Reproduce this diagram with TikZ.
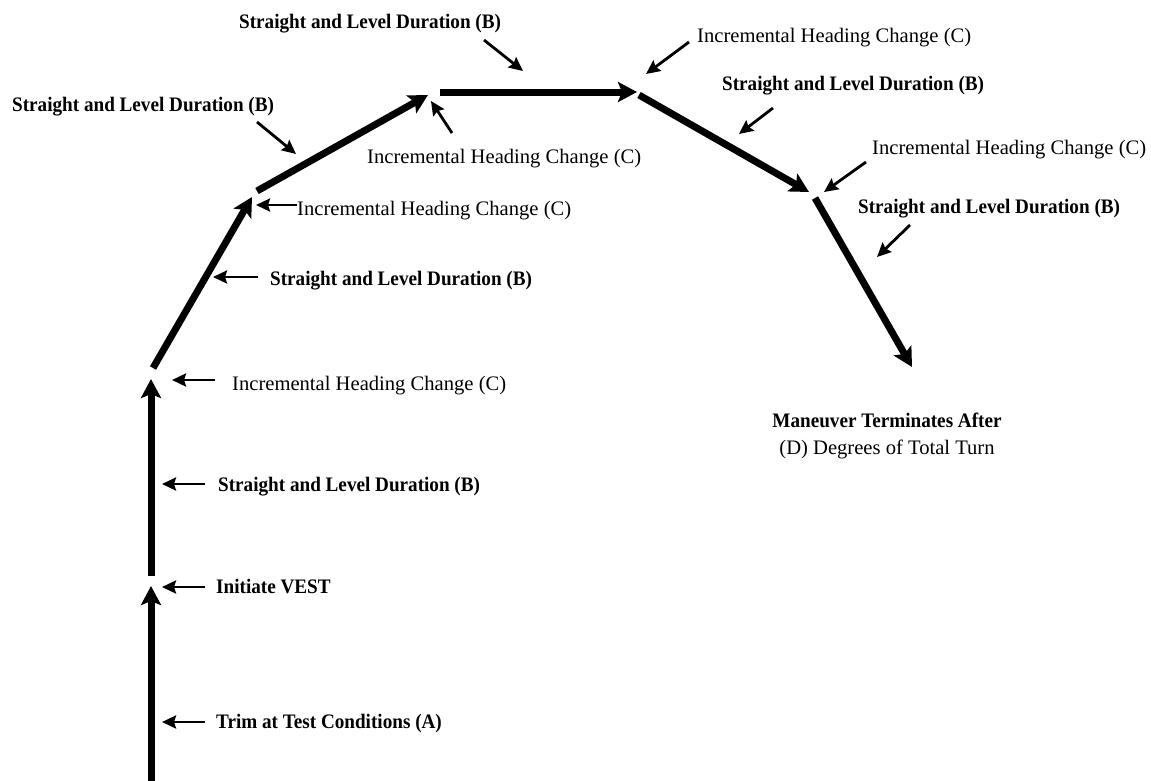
\documentclass[tikz,border=0pt]{standalone}
\usepackage{fontspec}
\setmainfont{Liberation Serif}
\newfontfamily\condserif[FakeStretch=0.93]{Liberation Serif}
\usetikzlibrary{arrows.meta}
\begin{document}
\begin{tikzpicture}[x=1pt,y=-1pt,
  leg/.style={line width=7pt,-{Stealth[length=19pt,width=20pt,inset=4pt]}},
  pointer/.style={line width=2.8pt,-{Stealth[length=14pt,width=13pt,inset=2pt]}},
  boldfont/.style={font=\condserif\fontsize{20.6}{24}\selectfont\bfseries},
  regfont/.style={font=\fontsize{20.6}{24}\selectfont},
  boldlab/.style={boldfont,inner sep=0pt,anchor=base west},
  reglab/.style={regfont,inner sep=0pt,anchor=base west}]
\useasboundingbox (0,0) rectangle (1151,780);

% flight path legs
\coordinate (p0s) at (151,782);  \coordinate (p0e) at (151,586);
\coordinate (p1s) at (151,576);  \coordinate (p1e) at (151,379);
\coordinate (p2s) at (153,368);  \coordinate (p2e) at (252,197);
\coordinate (p3s) at (257,191);  \coordinate (p3e) at (428,95);
\coordinate (p4s) at (440,92);   \coordinate (p4e) at (637,92);
\coordinate (p5s) at (639,95);   \coordinate (p5e) at (809,192);
\coordinate (p6s) at (815,198);  \coordinate (p6e) at (912,367);
\draw[leg] (p0s) -- (p0e);
\draw[leg] (p1s) -- (p1e);
\draw[leg] (p2s) -- (p2e);
\draw[leg] (p3s) -- (p3e);
\draw[leg] (p4s) -- (p4e);
\draw[leg] (p5s) -- (p5e);
\draw[leg] (p6s) -- (p6e);

% labels
\node[boldlab] (trim) at (216,728) {Trim at Test Conditions (A)};
\node[boldlab] (vest) at (216,593) {Initiate VEST};
\node[boldlab] (sl1) at (218,491) {Straight and Level Duration (B)};
\node[reglab]  (ic1) at (232,390) {Incremental Heading Change (C)};
\node[boldlab] (sl2) at (270,285) {Straight and Level Duration (B)};
\node[reglab]  (ic2) at (297,215) {Incremental Heading Change (C)};
\node[boldlab] (sl3) at (12,111) {Straight and Level Duration (B)};
\node[reglab]  (ic3) at (367,163) {Incremental Heading Change (C)};
\node[boldlab] (sl4) at (239,28) {Straight and Level Duration (B)};
\node[reglab]  (ic4) at (697,42) {Incremental Heading Change (C)};
\node[boldlab] (sl5) at (722,90) {Straight and Level Duration (B)};
\node[reglab]  (ic5) at (872,154) {Incremental Heading Change (C)};
\node[boldlab] (sl6) at (858,213) {Straight and Level Duration (B)};
\node[boldfont,inner sep=0pt,anchor=base] (end1) at (887,427) {Maneuver Terminates After};
\node[regfont,inner sep=0pt,anchor=base] (end2) at (887,454) {(D) Degrees of Total Turn};

% pointer arrows from labels to the path
\coordinate (a1s) at (205,722); \coordinate (a1e) at (162,722);
\coordinate (a2s) at (205,587); \coordinate (a2e) at (162,587);
\coordinate (a3s) at (205,484); \coordinate (a3e) at (162,484);
\coordinate (a4s) at (215,380); \coordinate (a4e) at (172,380);
\coordinate (a5s) at (258,277); \coordinate (a5e) at (213,277);
\coordinate (a6s) at (297,205); \coordinate (a6e) at (256,205);
\coordinate (a7s) at (257,122); \coordinate (a7e) at (296,154);
\coordinate (a8s) at (452,133); \coordinate (a8e) at (431,101);
\coordinate (a9s) at (484,40);  \coordinate (a9e) at (523,71);
\coordinate (a10s) at (689,42); \coordinate (a10e) at (646,74);
\coordinate (a11s) at (773,108); \coordinate (a11e) at (739,134);
\coordinate (a12s) at (866,162); \coordinate (a12e) at (824,192);
\coordinate (a13s) at (910,225); \coordinate (a13e) at (877,257);
\foreach \i in {1,...,13} \draw[pointer] (a\i s) -- (a\i e);
\end{tikzpicture}
\end{document}
